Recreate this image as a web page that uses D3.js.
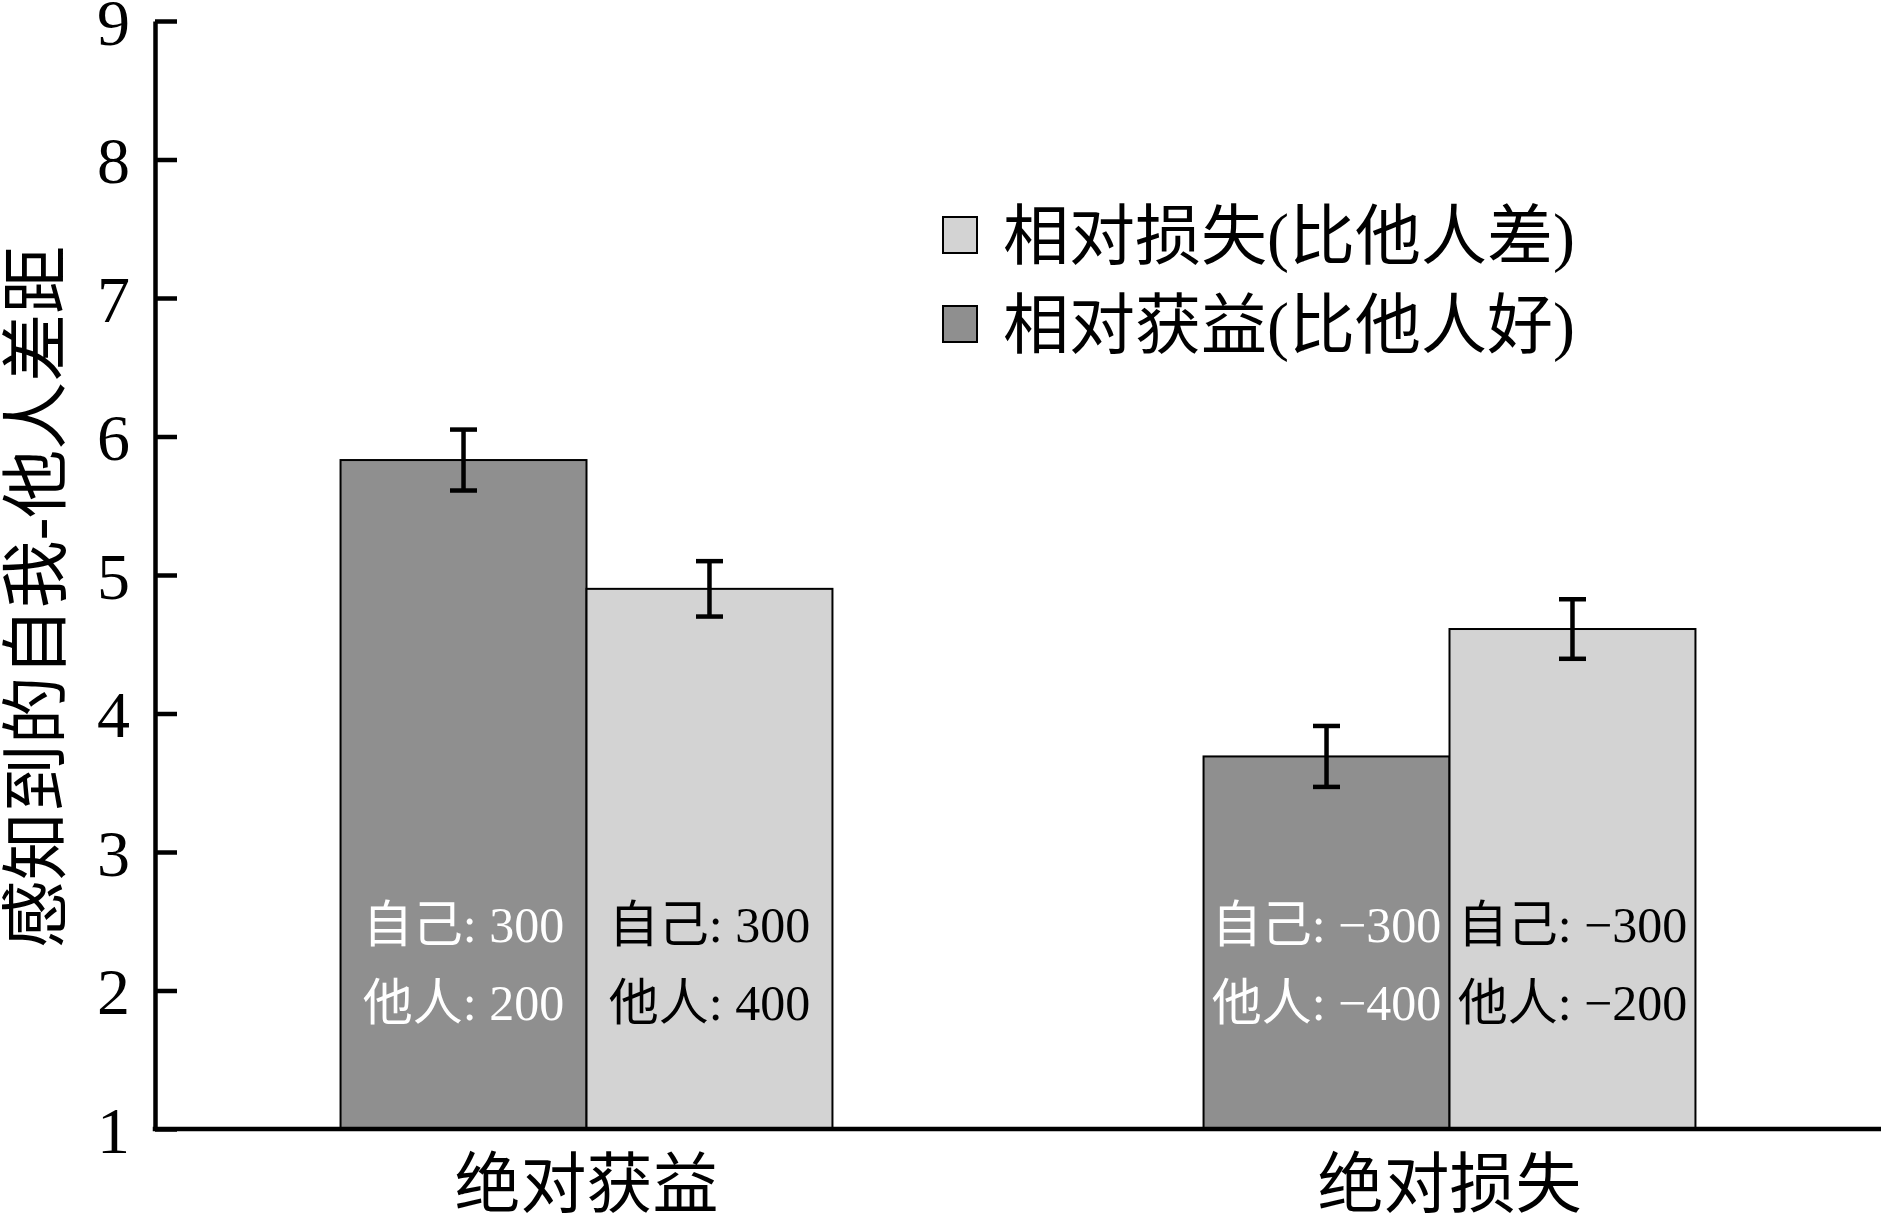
<!DOCTYPE html>
<html>
<head>
<meta charset="utf-8">
<script src="https://cdn.jsdelivr.net/npm/d3@7"></script>
<style>
  html, body { margin: 0; padding: 0; background: #fff; }
  svg { display: block; }
  text { font-family: "Liberation Serif", "Noto Sans CJK SC", serif; }
</style>
</head>
<body>
<svg id="chart" width="1881" height="1218"></svg>
<script>
// Conditions on the x axis
const groups = ["绝对获益", "绝对损失"];
// Series: relative gain (dark) and relative loss (light)
const seriesKeys = ["gain", "loss"];
const seriesNames = { gain: "相对获益(比他人好)", loss: "相对损失(比他人差)" };
const gainValues = [5.83, 3.69];
const lossValues = [4.90, 4.61];
const gainErrors = [0.22, 0.22];
const lossErrors = [0.20, 0.215];
// Payoff labels written inside each bar
const gainLabels = [["自己: 300", "他人: 200"], ["自己: −300", "他人: −400"]];
const lossLabels = [["自己: 300", "他人: 400"], ["自己: −300", "他人: −200"]];
const yTicks = [1, 2, 3, 4, 5, 6, 7, 8, 9];
const yTitle = "感知到的自我-他人差距";
const legendOrder = ["loss", "gain"];

const fills = { gain: "#8f8f8f", loss: "#d3d3d3" };
const labelColors = { gain: "#ffffff", loss: "#000000" };

const rows = groups.map((g, i) => ({
  group: g,
  gain: { value: gainValues[i], err: gainErrors[i], label: gainLabels[i] },
  loss: { value: lossValues[i], err: lossErrors[i], label: lossLabels[i] }
}));

const svg = d3.select("#chart");
const plotLeft = 155, plotRight = 1881, plotTop = 21, plotBottom = 1129;

const x0 = d3.scaleBand().domain(groups).range([plotLeft, plotRight])
  .paddingInner(0.43).paddingOuter(0.215);
const x1 = d3.scaleBand().domain(seriesKeys).range([0, x0.bandwidth()]).padding(0);
const y = d3.scaleLinear().domain([1, 9]).range([plotBottom, plotTop]);

// Bars
const g = svg.append("g");
rows.forEach(r => {
  seriesKeys.forEach(k => {
    const d = r[k];
    const bx = x0(r.group) + x1(k);
    g.append("rect")
      .attr("x", bx)
      .attr("y", y(d.value))
      .attr("width", x1.bandwidth())
      .attr("height", y(1) - y(d.value))
      .attr("fill", fills[k])
      .attr("stroke", "#000")
      .attr("stroke-width", 2);
  });
});

// Labels inside bars
rows.forEach(r => {
  seriesKeys.forEach(k => {
    const d = r[k];
    const cx = x0(r.group) + x1(k) + x1.bandwidth() / 2;
    d.label.forEach((t, j) => {
      g.append("text")
        .attr("x", cx)
        .attr("y", y(2.45) + 14 + j * 78)
        .attr("text-anchor", "middle")
        .attr("font-size", 50)
        .attr("fill", labelColors[k])
        .text(t);
    });
  });
});

// Error bars
const cap = 13.5;
rows.forEach(r => {
  seriesKeys.forEach(k => {
    const d = r[k];
    const cx = x0(r.group) + x1(k) + x1.bandwidth() / 2;
    const yt = y(d.value + d.err), yb = y(d.value - d.err);
    const eb = g.append("g").attr("stroke", "#000").attr("stroke-width", 4.5);
    eb.append("line").attr("x1", cx).attr("x2", cx).attr("y1", yt).attr("y2", yb);
    eb.append("line").attr("x1", cx - cap).attr("x2", cx + cap).attr("y1", yt).attr("y2", yt);
    eb.append("line").attr("x1", cx - cap).attr("x2", cx + cap).attr("y1", yb).attr("y2", yb);
  });
});

// Y axis with inward ticks
const yAxis = d3.axisLeft(y).tickValues(yTicks).tickFormat(d3.format("d"))
  .tickSize(-22).tickSizeOuter(0).tickPadding(25);
const ya = svg.append("g").attr("transform", `translate(${plotLeft},0)`).call(yAxis);
ya.select(".domain").attr("stroke-width", 4.5);
ya.selectAll(".tick line").attr("stroke-width", 4.5);
ya.selectAll(".tick text")
  .attr("font-size", 66)
  .attr("dy", "0.35em")
  .attr("font-family", "Liberation Serif")
  .attr("fill", "#000");

// X axis baseline
svg.append("line")
  .attr("x1", plotLeft - 2.25).attr("x2", plotRight)
  .attr("y1", y(1)).attr("y2", y(1))
  .attr("stroke", "#000").attr("stroke-width", 4.5);

// Category labels
groups.forEach(gr => {
  svg.append("text")
    .attr("x", x0(gr) + x0.bandwidth() / 2)
    .attr("y", 1207)
    .attr("text-anchor", "middle")
    .attr("font-size", 66)
    .attr("fill", "#000")
    .text(gr);
});

// Y axis title
svg.append("text")
  .attr("transform", `translate(60, 597) rotate(-90)`)
  .attr("text-anchor", "middle")
  .attr("font-size", 68)
  .attr("fill", "#000")
  .text(yTitle);

// Legend
const lg = svg.append("g").attr("transform", "translate(943, 0)");
legendOrder.forEach((k, i) => {
  const cy = 235 + i * 89;
  lg.append("rect")
    .attr("x", 0).attr("y", cy - 18)
    .attr("width", 34).attr("height", 36)
    .attr("fill", fills[k]).attr("stroke", "#000").attr("stroke-width", 2);
  lg.append("text")
    .attr("x", 60).attr("y", cy)
    .attr("dy", "0.36em")
    .attr("font-size", 66)
    .attr("fill", "#000")
    .text(seriesNames[k]);
});
</script>
</body>
</html>
